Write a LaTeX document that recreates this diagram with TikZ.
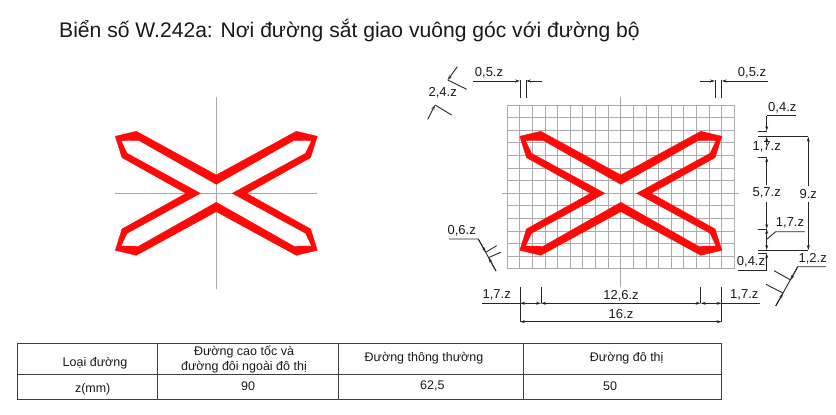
\documentclass[tikz,border=0pt]{standalone}
\usepackage{xcolor}
\usepackage{fontspec}
\setmainfont{Liberation Sans}
\usetikzlibrary{arrows.meta}

\definecolor{axisgray}{HTML}{A8A8A8}
\definecolor{gridgray}{HTML}{ABABAB}
\definecolor{crossred}{HTML}{FF0808}

\tikzset{
  axisline/.style={draw=axisgray,line width=1pt},
  gridline/.style={draw=gridgray,line width=1pt},
  dimline/.style={draw=black!85,line width=.9pt},
  dimtip/.style={dimline,{Stealth[length=5pt,width=3pt]}-{Stealth[length=5pt,width=3pt]}},
  endtip/.style={dimline,-{Stealth[length=5pt,width=3pt]}},
  dimlabel/.style={font=\fontsize{13}{14}\selectfont,text=black!90,inner sep=0pt},
  celltext/.style={font=\fontsize{12.5}{15}\selectfont,text=black!90,inner sep=0pt,align=center},
  tableline/.style={draw=black!75,line width=.9pt},
}

% the red outline, centred on the current origin
\newcommand{\crossmark}{
  \filldraw[crossred,even odd rule,line width=.4pt]
    (0,-18.3) -- (80,-62) -- (101,-57) -- (94.3,-35.7) -- (30.3,0)
    -- (94.3,35.7) -- (101,57) -- (80,62) -- (0,18.3)
    -- (-80,62) -- (-101,57) -- (-94.3,35.7) -- (-30.3,0)
    -- (-94.3,-35.7) -- (-101,-57) -- (-80,-62) -- cycle
    (0,-9) -- (77.7,-53) -- (95.3,-52.7) -- (89.3,-40) -- (16,0)
    -- (89.3,40) -- (95.3,52.7) -- (77.7,53) -- (0,9)
    -- (-77.7,53) -- (-95.3,52.7) -- (-89.3,40) -- (-16,0)
    -- (-89.3,-40) -- (-95.3,-52.7) -- (-77.7,-53) -- cycle;
}

\begin{document}
\begin{tikzpicture}[x=1pt,y=-1pt]
  \useasboundingbox (0,0) rectangle (836,415);

  \node (title) [anchor=west,inner sep=0pt,font=\fontsize{21.1}{24}\selectfont,text=black!90]
    at (59,31) {Biển số W.242a: Nơi đường sắt giao vuông góc với đường bộ};

  % left sign
  \draw[axisline] (216.3,97) -- (216.3,289);
  \draw[axisline] (115,193.3) -- (317,193.3);
  \begin{scope}[shift={(216.3,193.3)}]
    \crossmark
  \end{scope}

  % right sign with its grid
  \foreach \i in {0,...,18}
    \draw[gridline] (507.3+12.61*\i,105) -- (507.3+12.61*\i,269);
  \foreach \i in {0,...,13}
    \draw[gridline] (507.3,105+12.61*\i) -- (734.3,105+12.61*\i);
  \draw[axisline] (620.8,97) -- (620.8,287);
  \draw[axisline] (501.7,193.3) -- (739.3,193.3);
  \begin{scope}[shift={(620.8,193.3)}]
    \crossmark
  \end{scope}

  % top dimensions
  \draw[dimline] (520,80) -- (520,98) (526,80) -- (526,98);
  \draw[endtip] (473.3,81) -- (520,81);
  \draw[endtip] (541.7,81) -- (526,81);
  \node (topl) [dimlabel] at (489,72.7) {0,5.z};
  \draw[dimline] (715,80) -- (715,98) (721.7,80) -- (721.7,98);
  \draw[endtip] (700,81) -- (715,81);
  \draw[endtip] (768,81) -- (721.7,81);
  \node (topr) [dimlabel] at (752,72.7) {0,5.z};

  % slanted dimension, top left
  \draw[endtip] (457.3,66.7) -- (447.7,80);
  \draw[endtip] (427.7,119.3) -- (435,105);
  \draw[dimline] (447.7,80) -- (466.7,89.3);
  \draw[dimline] (435,105) -- (451.7,115);
  \node (slant) [dimlabel] at (442.7,92.3) {2,4.z};

  % right dimensions
  \draw[dimline] (766.7,115.7) -- (795.7,115.7);
  \node (capa) [dimlabel] at (782.3,107.7) {0,4.z};
  \draw[dimline] (757.7,131) -- (766.7,131);
  \draw[dimline] (757.7,136.7) -- (808.3,136.7);
  \draw[dimline] (757.7,157.3) -- (766.7,157.3);
  \draw[endtip] (766.7,115.7) -- (766.7,131);
  \draw[endtip] (766.7,145) -- (766.7,136.7);
  \draw[endtip] (766.7,185) -- (766.7,157.3);
  \node (edge) [dimlabel] at (766.7,147) {1,7.z};
  \node (mid) [dimlabel] at (766.7,193.3) {5,7.z};
  \draw[endtip] (766.7,201.7) -- (766.7,229);
  \draw[dimline] (757.7,229) -- (766.7,229);
  \draw[endtip] (766.7,240) -- (766.7,229);
  \draw[endtip] (766.7,240) -- (766.7,250);
  \draw[dimline] (757.7,250) -- (808.3,250);
  \draw[dimline] (757.7,253.3) -- (766.7,253.3);
  \draw[endtip] (766.7,270) -- (766.7,253.3);
  \draw[dimline] (738.3,270) -- (766.7,270);
  \node (capb) [dimlabel] at (751,262) {0,4.z};
  \draw[dimline] (766.7,239.3) -- (775.7,231.7) -- (805,231.7);
  \node (edgeb) [dimlabel] at (790,223.3) {1,7.z};
  \node (high) [dimlabel] at (808.3,193.7) {9.z};
  \draw[endtip] (808.3,186) -- (808.3,136.7);
  \draw[endtip] (808.3,201.7) -- (808.3,250);

  % slanted dimension, bottom right
  \draw[dimline] (826,266.7) -- (797.7,266.7) -- (775.7,306);
  \draw[endtip] (797.7,266.7) -- (790.5,280);
  \draw[endtip] (775.7,306) -- (783,293.3);
  \draw[dimline] (774,270.7) -- (790.7,280);
  \draw[dimline] (766,284.3) -- (783.3,293.3);
  \node (widthr) [dimlabel] at (812.7,258.3) {1,2.z};

  % slanted dimension, bottom left
  \draw[dimline] (449,239) -- (478.3,239) -- (496,271);
  \draw[endtip] (478.3,239) -- (485.7,252.3);
  \draw[endtip] (496,271) -- (488.5,257.7);
  \draw[dimline] (485.7,252.3) -- (496.7,245.7);
  \draw[dimline] (488.3,257.7) -- (500.7,252.3);
  \node (widthl) [dimlabel] at (461.7,230.7) {0,6.z};

  % bottom dimensions
  \draw[dimline] (520,287.3) -- (520,322.3) (721.7,287.3) -- (721.7,322.3);
  \draw[dimline] (541,287.3) -- (541,303.3) (700.7,287.3) -- (700.7,303.3);
  \draw[dimline] (481.7,303.3) -- (520,303.3) (721.7,303.3) -- (760,303.3);
  \draw[dimtip] (520,303.3) -- (541,303.3);
  \draw[dimtip] (541,303.3) -- (700.7,303.3);
  \draw[dimtip] (700.7,303.3) -- (721.7,303.3);
  \draw[dimtip] (520,321.7) -- (721.7,321.7);
  \node (sidel) [dimlabel] at (496.7,295.3) {1,7.z};
  \node (inner) [dimlabel] at (621,295.3) {12,6.z};
  \node (sider) [dimlabel] at (744.3,295.3) {1,7.z};
  \node (total) [dimlabel] at (621,314) {16.z};

  % table
  \draw[tableline] (17.7,343.3) rectangle (721,399);
  \draw[tableline] (17.7,374.3) -- (721,374.3);
  \foreach \x in {157.3,338.3,523.3}
    \draw[tableline] (\x,343.3) -- (\x,399);
  \node (roadtype) [celltext] at (95,362.7) {Loại đường};
  \node (highway) [celltext] at (244,359.5) {Đường cao tốc và\\đường đôi ngoài đô thị};
  \node (normal) [celltext] at (424,358.3) {Đường thông thường};
  \node (urban) [celltext] at (626.7,358.3) {Đường đô thị};
  \node (zmm) [celltext] at (92.7,389) {z(mm)};
  \node (zhigh) [celltext] at (248,386) {90};
  \node (znorm) [celltext] at (432.3,386) {62,5};
  \node (zurb) [celltext] at (610,386) {50};
\end{tikzpicture}
\end{document}
